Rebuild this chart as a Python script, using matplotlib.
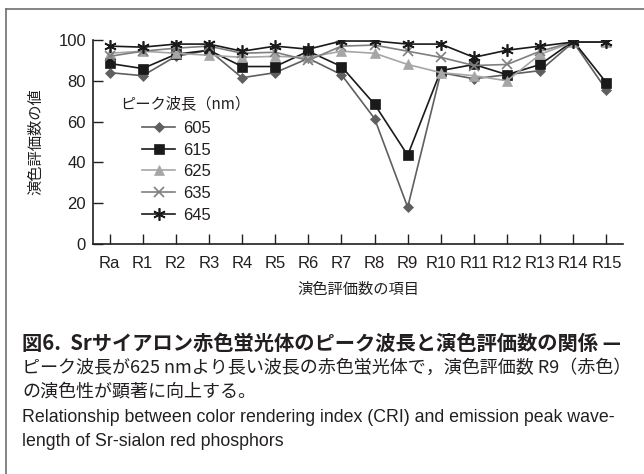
import matplotlib
matplotlib.use("Agg")
import matplotlib.pyplot as plt
from matplotlib.lines import Line2D

plt.rcParams['font.family'] = ['Liberation Sans', 'Noto Sans CJK JP', 'DejaVu Sans']

# 演色評価数の項目
items = ["Ra", "R1", "R2", "R3", "R4", "R5", "R6", "R7",
         "R8", "R9", "R10", "R11", "R12", "R13", "R14", "R15"]

# ピーク波長ごとの値
cri_605 = [84, 82.5, 92, 95, 81.5, 84, 91, 83, 61.5, 18, 84, 81, 83, 85, 99, 75.5]
cri_615 = [88.5, 86, 93, 95, 87, 87, 94.5, 87, 68.5, 43.5, 85, 88, 83, 88, 99.5, 79]
cri_625 = [93.5, 94.5, 93.5, 92.5, 91.5, 92, 91.5, 94.5, 93.5, 88, 84, 82.5, 80, 93, 99, 99]
cri_635 = [92, 94.5, 96, 97, 93.5, 94, 90, 97, 97.5, 94.5, 91.5, 87.5, 88, 94.5, 99, 99]
cri_645 = [97, 96.5, 98, 98, 94.5, 97, 95.5, 99.5, 99.5, 98, 98, 91.5, 95, 97, 99, 99]

series = [
    ("605", cri_605, "#5f5f5f", "D", 5),
    ("615", cri_615, "#1a1a1a", "s", 6.5),
    ("625", cri_625, "#a6a6a6", "^", 7),
    ("635", cri_635, "#7f7f7f", "x", 7),
    ("645", cri_645, "#1a1a1a", (6, 2, 0), 9),
]

txt = "#231f20"
W, H = 644, 474
fig = plt.figure(figsize=(6.44, 4.74), dpi=100)
ax = fig.add_axes([93 / W, 1 - 244 / H, 530 / W, 204 / H])

x = list(range(len(items)))
for name, vals, col, mk, ms in series:
    ax.plot(x, vals, color=col, marker=mk, markersize=ms, linewidth=1.2,
            markeredgewidth=1.2 if mk in ("x", (6, 2, 0)) else 0.5,
            markeredgecolor=col, markerfacecolor=col, label=name)

ax.set_xlim(-0.5, 15.5)
ax.set_ylim(0, 100)
ax.set_yticks([0, 20, 40, 60, 80, 100])
ax.set_xticks(x)
ax.set_xticklabels(items, fontsize=12)
ax.tick_params(axis='both', direction='in', length=7, width=1, colors=txt,
               labelsize=12)
ax.tick_params(axis='x', pad=9)
ax.tick_params(axis='y', pad=5)
for s in ("top", "right"):
    ax.spines[s].set_visible(False)
for s in ("left", "bottom"):
    ax.spines[s].set_color(txt)
    ax.spines[s].set_linewidth(1.2)

ax.set_ylabel("演色評価数の値", family=['Noto Sans CJK JP'], fontsize=11, color=txt, labelpad=10)
ax.set_xlabel("演色評価数の項目", family=['Noto Sans CJK JP'], fontsize=11, color=txt, labelpad=7)

# 凡例 (タイトルは別に置く)
fig.text(120 / W, 1 - 104 / H, "ピーク波長（nm）", family=['Noto Sans CJK JP'],
         fontsize=11, color=txt, va='center')
leg = ax.legend(loc="upper left", bbox_to_anchor=(142 / W, 1 - 121 / H),
                bbox_transform=fig.transFigure, frameon=False, fontsize=12,
                handlelength=2.0, handletextpad=0.45, labelspacing=0.4,
                borderaxespad=0, borderpad=0)
for t in leg.get_texts():
    t.set_color(txt)

# 外枠
fig.add_artist(Line2D([6 / W, 1], [1 - 9 / H, 1 - 9 / H], color="#707070", lw=1.2))
fig.add_artist(Line2D([6 / W, 6 / W], [0, 1 - 9 / H], color="#707070", lw=1.2))

# キャプション
fig.text(22 / W, 1 - 343 / H, "図6.  Srサイアロン赤色蛍光体のピーク波長と演色評価数の関係 —",
         family=['Noto Sans CJK JP'], fontweight='bold', fontsize=14.6, color=txt, va='center')
fig.text(22 / W, 1 - 368 / H, "ピーク波長が625 nmより長い波長の赤色蛍光体で，演色評価数 R9（赤色）",
         family=['Noto Sans CJK JP'], fontsize=13, color=txt, va='center')
fig.text(22 / W, 1 - 392 / H, "の演色性が顕著に向上する。",
         family=['Noto Sans CJK JP'], fontsize=13, color=txt, va='center')
fig.text(22 / W, 1 - 418 / H,
         "Relationship between color rendering index (CRI) and emission peak wave-",
         fontsize=12.8, color=txt, va='center')
fig.text(22 / W, 1 - 442 / H, "length of Sr-sialon red phosphors",
         fontsize=12.8, color=txt, va='center')

fig.savefig("out.png", dpi=100)
